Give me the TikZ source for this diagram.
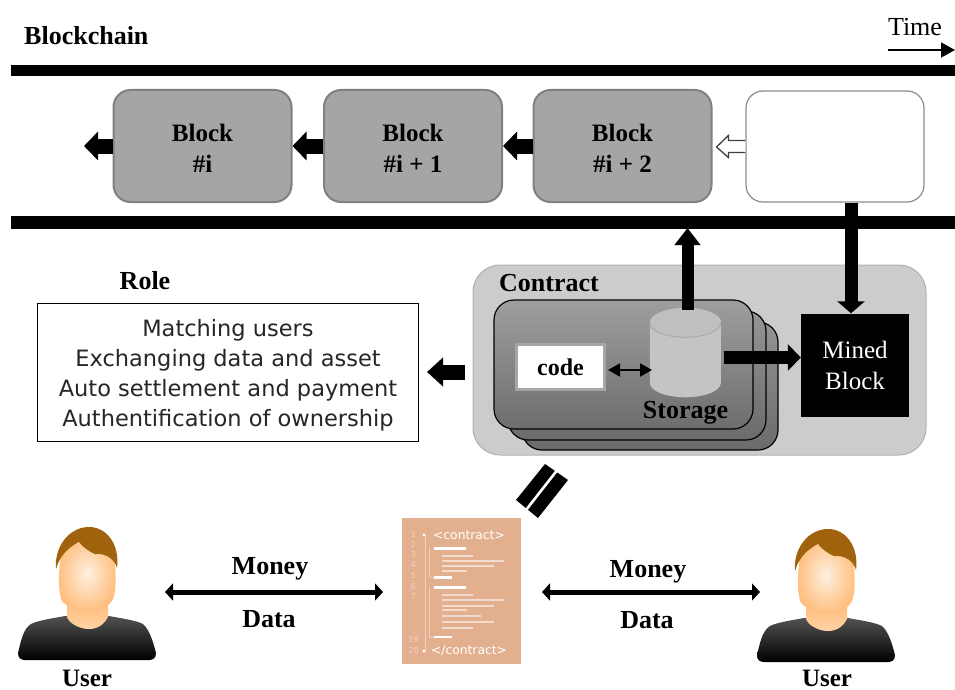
\documentclass[tikz,border=0pt]{standalone}
\usepackage{fontspec}
\setmainfont{Liberation Serif}
\newfontfamily\sansf{DejaVu Sans}
\usetikzlibrary{arrows.meta,calc}
\definecolor{blockgray}{HTML}{A5A5A5}
\definecolor{panelgray}{HTML}{CCCCCC}
\definecolor{peach}{HTML}{E3B08F}
\definecolor{hairc}{HTML}{A0620C}
\definecolor{paleline}{HTML}{F0D3BF}
\newcommand{\toppad}{\rule{0pt}{21pt}}
\tikzset{
  x=1pt,y=-1pt,
  rail/.style={fill=black,draw=none},
  blockbox/.style={draw=black!50,line width=2pt,rounded corners=17pt,fill=blockgray,minimum width=178pt,minimum height=112pt,inner sep=0pt,align=center,font=\fontsize{25}{30}\selectfont\bfseries},
  bigarrow/.style={line width=15pt,-{Triangle[length=14pt,width=28pt]}},
  thickarrow/.style={line width=12.5pt,-{Triangle[length=13pt,width=26pt]}},
  moneyarrow/.style={line width=5pt,{Triangle[length=8pt,width=17pt]}-{Triangle[length=8pt,width=17pt]}},
  lab/.style={font=\fontsize{26}{30}\selectfont\bfseries,inner sep=0pt},
  stackcard/.style={draw=black,line width=1.2pt,rounded corners=20pt},
}
\newcommand{\person}[2]{%
 \begin{scope}[shift={(#1,#2)}]
  \shade[top color=black!68,bottom color=black,draw=none]
    (-69,78) .. controls (-66,66) and (-64,54) .. (-56,49)
    .. controls (-48,45) and (-32,43) .. (-22,41) -- (22,41)
    .. controls (32,43) and (48,45) .. (56,49)
    .. controls (62,54) and (66,66) .. (69,78)
    .. controls (69,83) and (66,85) .. (62,85) -- (-62,85)
    .. controls (-66,85) and (-69,83) .. (-69,78) -- cycle;
  \shade[top color=orange!55!white,bottom color=orange!35!white,draw=none]
    (-20,22) -- (-20,42) .. controls (-18,48) and (-8,54) .. (2,54)
    .. controls (12,54) and (18,48) .. (21,42) -- (21,22) -- cycle;
  \shade[inner color=orange!12!white,outer color=orange!50!white,draw=none]
    (-27,-12) .. controls (-29,6) and (-28,20) .. (-25,26)
    .. controls (-20,32) and (-8,37) .. (2,37)
    .. controls (12,37) and (22,32) .. (26,24)
    .. controls (29,16) and (29,4) .. (28,-12)
    .. controls (28,-40) and (-27,-40) .. (-27,-12) -- cycle;
  \fill[hairc] (-31,-6)
    .. controls (-33,-28) and (-18,-48) .. (2,-48)
    .. controls (20,-48) and (33,-30) .. (30,-7)
    .. controls (28,-15) and (20,-22) .. (8,-21)
    .. controls (1,-24) and (-4,-28) .. (-8,-33)
    .. controls (-18,-28) and (-27,-20) .. (-31,-6) -- cycle;
 \end{scope}}
\begin{document}
\begin{tikzpicture}
\useasboundingbox (0,0) rectangle (955,690);
\fill[white] (0,0) rectangle (955,690);
% rails
\fill[rail] (11,65) rectangle (955,76);
\fill[rail] (11,216) rectangle (955,229);
\node[lab,anchor=west] (title) at (24,36) {Blockchain};
\node[inner sep=0pt,font=\fontsize{26}{30}\selectfont] (time) at (915,27) {Time};
\coordinate (timeA) at (888,50);
\coordinate (timeB) at (955,50);
\draw[line width=1.6pt,-{Triangle[length=14pt,width=15pt]}] (timeA) -- (timeB);
% blocks
\node[blockbox] (b0) at (202.5,146) {\toppad Block\\[1pt]\#i};
\node[blockbox] (b1) at (413,146) {\toppad Block\\[1pt]\#i + 1};
\node[blockbox] (b2) at (622.5,146) {\toppad Block\\[1pt]\#i + 2};
\node[draw=black!45,line width=1.2pt,rounded corners=17pt,fill=white,minimum width=178pt,minimum height=111pt,inner sep=0pt] (b3) at (835,146.5) {};
\coordinate (b0end) at (84,146);
\draw[bigarrow,yshift=-1.5pt] (b0.west) -- (b0end);
\draw[bigarrow,yshift=-1.5pt] (b1.west) -- (b0.east);
\draw[bigarrow,yshift=-1.5pt] (b2.west) -- (b1.east);
\draw[black!75,line width=1.3pt,fill=white,line join=miter]
  ($(b3.west)+(0,-6)$) -- ++(-17,0) -- ++(0,-5) -- ($(b2.east)+(4,1)$) -- ($(b3.west)+(-17,11)$) -- ++(0,-5) -- ($(b3.west)+(0,6)$);
% contract panel
\node[draw=black!30,line width=1pt,rounded corners=27pt,fill=panelgray,minimum width=453pt,minimum height=190pt,inner sep=0pt] (panel) at (699.5,360) {};
\node[lab,anchor=west] (contract) at (499,283) {Contract};
\shade[stackcard,top color=black!42,bottom color=black!58] (522,322) rectangle (778,450);
\shade[stackcard,top color=black!42,bottom color=black!58] (508,311) rectangle (766,440);
\node[stackcard,draw,minimum width=259pt,minimum height=129pt,inner sep=0pt,top color=black!38,bottom color=black!57] (card) at (623.5,364.5) {};
\node[draw=black!35,line width=3pt,fill=white,minimum width=88pt,minimum height=45pt,inner sep=0pt,font=\fontsize{24}{28}\selectfont\bfseries] (code) at (560.5,367) {code};
% storage cylinder
\node[minimum width=71pt,minimum height=89pt,inner sep=0pt] (stor) at (685.5,352.5) {};
\fill[black!23] (stor.north west) ++(0,15) -- ++(0,60)
   arc[start angle=180,end angle=360,x radius=35.5,y radius=-14.5] -- ++(0,-60) -- cycle;
\fill[black!25] ($(stor.north)+(0,14.5)$) ellipse[x radius=35.5,y radius=14.5];
\draw[black!35,line width=.8pt] ($(stor.north west)+(0,15)$) arc[start angle=180,end angle=360,x radius=35.5,y radius=-14.5];
\node[lab] (storlab) at (685.5,413) {Storage};
\node[fill=black,text=white,minimum width=108pt,minimum height=103pt,inner sep=0pt,align=center,font=\fontsize{25}{31}\selectfont] (mined) at (855,365) {Mined\\Block};
% arrows in contract
\coordinate (bothL) at (608,370);
\coordinate (bothR) at (652,370);
\draw[line width=2pt,{Triangle[length=12pt,width=13pt]}-{Triangle[length=12pt,width=13pt]}] (bothL) -- (bothR);
\coordinate (railbottom) at (687.5,228);
\draw[line width=12pt,-{Triangle[length=17pt,width=25pt]}] ($(stor.north)+(2,2)$) -- (railbottom);
\coordinate (b3down) at ($(b3.south)+(16,0)$);
\draw[line width=13pt,-{Triangle[length=12pt,width=27pt]}] (b3down) -- (mined.north -| b3down);
\coordinate (sright) at (724,357.5);
\draw[thickarrow] (sright) -- (mined.west |- sright);
% role
\node[lab] (role) at (145,281) {Role};
\node[draw=black,line width=1.2pt,fill=white,minimum width=381pt,minimum height=138pt,inner sep=0pt] (rolebox) at (228,372.5) {};
\node[inner sep=0pt,align=center,text=black!85,font=\fontsize{22.5}{30}\selectfont\sansf] (roletext) at (228,375) {Matching users\\Exchanging data and asset\\Auto settlement and payment\\Authentification of ownership};
\coordinate (pl) at (465,372);
\draw[line width=15pt,-{Triangle[length=16pt,width=28pt]}] (pl) -- (427,372);
% double slash
\fill[black] (516,500) -- (545,464) -- (568,480) -- (538,518) -- cycle;
\draw[white,line width=2.6pt] (556.5,471) -- (526,510);
% contract doc
\node[fill=peach,minimum width=119pt,minimum height=146pt,inner sep=0pt] (doc) at (461.5,591) {};
\node[text=white,inner sep=0pt,font=\fontsize{12.3}{15}\selectfont\sansf] (open) at (469,535) {<contract>};
\node[text=white,inner sep=0pt,font=\fontsize{12.3}{15}\selectfont\sansf] (close) at (469,651) {</contract>};
\foreach \n/\yy in {1/535,2/545,3/555,4/565,5/576,6/587,7/597,./611,./622,./633,19/640,20/651}{
  \node[text=paleline,inner sep=0pt,font=\fontsize{8}{9}\selectfont\sansf] at (413.5,\yy) {\n};}
\draw[paleline,line width=.6pt] (425,535) -- (425,651);
\draw[paleline,line width=.6pt] (429,548) -- (429,577) -- (434,577) (429,588) -- (429,637) -- (434,637);
\fill[white] (424,535) circle (1.6) (424,651) circle (1.6);
\foreach \xa/\xb/\yy/\w in {434/466/548.5/2.8,434/452/577.5/2.4,434/466/587.5/2.8,434/452/637/2.4}{
  \draw[white,line width=\w pt] (\xa,\yy) -- (\xb,\yy);}
\foreach \xb/\yy in {473/556,504/561,494/566,467/571,473/595,504/600,494/606,467/610,481/616,494/622,473/628}{
  \draw[white!55!peach,line width=1.7pt] (442,\yy) -- (\xb,\yy);}
% users
\person{87}{575}
\person{826}{577}
\node[lab,font=\fontsize{25}{28}\selectfont\bfseries] (u1) at (87,678) {User};
\node[lab,font=\fontsize{25}{28}\selectfont\bfseries] (u2) at (827,678) {User};
% money data
\coordinate (u1r) at (165,592);
\coordinate (doc1) at (383,592);
\draw[moneyarrow] (u1r) -- (doc1);
\coordinate (doc2) at (542,592);
\coordinate (u2l) at (760,592);
\draw[moneyarrow] (doc2) -- (u2l);
\node[lab] (m1) at (270,569) {Money};
\node[lab] (d1) at (269,619) {Data};
\node[lab] (m2) at (648,572) {Money};
\node[lab] (d2) at (647,620) {Data};
\end{tikzpicture}
\end{document}
